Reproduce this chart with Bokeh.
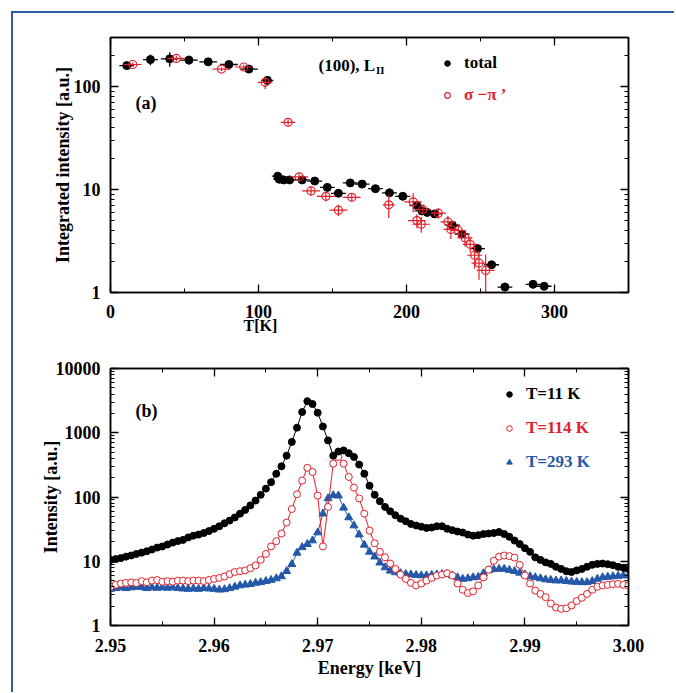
import numpy as np
from bokeh.plotting import figure
from bokeh.models import (FixedTicker, LinearAxis, LogAxis, Legend, LegendItem, Title,
                          Label, Range1d, PrintfTickFormatter, CustomJSTickFormatter)
from bokeh.layouts import column
from bokeh.embed import file_html
from bokeh.resources import INLINE

FONT = "Liberation Serif"
RED = "#e3212b"
BLUE = "#2458a8"
FRAME_BLUE = "#2e5f9f"

# ---------------- panel (a): integrated intensity vs temperature ----------------
total_T = [11, 27, 40, 53, 66, 80, 93.5, 106, 113, 114, 117, 121, 129.5, 138, 146.5, 154,
           162, 170, 179, 188.5, 197.5, 207, 210.5, 214, 219, 231, 237.5, 248, 257.5,
           266.5, 285.5, 293]
total_I = [160, 183, 186, 181, 174, 164, 148, 115, 13.5, 12.6, 12.4, 12.4, 12.4, 12.1, 10.5,
           9.2, 11.6, 11.3, 10.2, 9.3, 8.6, 7.0, 6.2, 6.0, 5.8, 4.5, 3.7, 2.67, 1.86,
           1.13, 1.2, 1.15]
total_xerr = [5, 5, 6, 6, 6, 6, 6, 4, 4, 4, 4, 4, 5, 5, 5, 5, 5, 5, 5, 5, 5, 5, 5, 5, 5, 5,
              5, 5, 5, 5, 5, 5]
total_yerr = [10, 22, 30, 18, 12, 8, 8, 10, 0.8, 0.6, 0.5, 0.5, 0.5, 0.5, 0.4, 0.4, 0.4,
              0.4, 0.4, 0.4, 0.3, 0.3, 0.3, 0.3, 0.3, 0.2, 0.2, 0.15, 0.1, 0.06, 0.06, 0.06]

sp_T = [15, 44.5, 75, 90, 104.5, 120, 127.5, 135.5, 145.5, 154, 163, 188, 204.5, 207, 210,
        211, 221.5, 228, 230, 235, 239.5, 243, 246, 249, 253.5]
sp_I = [164, 188, 148, 155, 110, 45, 13.3, 9.7, 8.6, 6.3, 8.4, 7.1, 7.6, 5.0, 4.6, 6.4, 5.9,
        4.85, 4.1, 4.0, 3.4, 2.94, 2.3, 1.93, 1.64]
sp_xerr = [6, 6, 6, 6, 5, 5, 6, 6, 6, 6, 6, 4, 6, 6, 6, 5, 5, 5, 5, 5, 5, 5, 5, 5, 6]
sp_yerr = [8, 12, 6, 8, 15, 3, 1.0, 1.0, 0.9, 0.8, 0.8, 1.8, 1.6, 0.8, 0.8, 0.6, 0.7, 0.7,
           0.8, 0.6, 0.6, 0.5, 0.6, 0.6, 0.7]

# ---------------- panel (b): spectra ----------------
energy = [2.9500, 2.9505, 2.9510, 2.9515, 2.9520, 2.9525, 2.9530, 2.9535, 2.9540, 2.9545,
          2.9550, 2.9555, 2.9560, 2.9565, 2.9570, 2.9575, 2.9580, 2.9585, 2.9590, 2.9595,
          2.9600, 2.9605, 2.9610, 2.9615, 2.9620, 2.9625, 2.9630, 2.9635, 2.9640, 2.9645,
          2.9650, 2.9655, 2.9660, 2.9665, 2.9670, 2.9675, 2.9680, 2.9685, 2.9690, 2.9695,
          2.9700, 2.9705, 2.9710, 2.9715, 2.9720, 2.9725, 2.9730, 2.9735, 2.9740, 2.9745,
          2.9750, 2.9755, 2.9760, 2.9765, 2.9770, 2.9775, 2.9780, 2.9785, 2.9790, 2.9795,
          2.9800, 2.9805, 2.9810, 2.9815, 2.9820, 2.9825, 2.9830, 2.9835, 2.9840, 2.9845,
          2.9850, 2.9855, 2.9860, 2.9865, 2.9870, 2.9875, 2.9880, 2.9885, 2.9890, 2.9895,
          2.9900, 2.9905, 2.9910, 2.9915, 2.9920, 2.9925, 2.9930, 2.9935, 2.9940, 2.9945,
          2.9950, 2.9955, 2.9960, 2.9965, 2.9970, 2.9975, 2.9980, 2.9985, 2.9990, 2.9995,
          3.0000]
int_11K = [10.5, 10.8, 11.2, 11.8, 12.3, 13.0, 13.6, 14.3, 15.2, 16.3,
           17.0, 18.2, 19.5, 20.6, 21.5, 23.5, 25.0, 26.0, 27.5, 29.5,
           32, 35, 39, 43, 48, 55, 63, 74, 88, 108,
           135, 170, 230, 300, 440, 720, 1200, 2100, 3100, 2800,
           2050, 1250, 760, 440, 510, 530, 480, 420, 320, 230,
           150, 108, 86, 70, 60, 52, 46, 42, 38, 36,
           34.5, 33, 33.5, 35, 35, 32, 30.5, 29, 28, 26,
           25, 25.5, 26.5, 27, 27.5, 28.5, 26.5, 24, 21, 18.5,
           16, 14, 11.5, 10.5, 9.6, 9.1, 8.2, 7.6, 7.0, 6.8,
           7.2, 7.6, 8.2, 8.8, 9.1, 9.2, 9.0, 8.7, 8.2, 7.9,
           7.6]
int_114K = [4.0, 4.3, 4.5, 4.6, 4.7, 4.6, 4.9, 4.7, 5.0, 5.1,
            4.8, 4.9, 4.8, 5.0, 5.0, 4.9, 5.0, 5.0, 4.9, 5.1,
            5.3, 5.5, 5.8, 6.3, 6.8, 7.0, 7.2, 7.8, 8.6, 10.5,
            13, 17, 20.5, 27, 40, 65, 110, 180, 285, 245,
            105, 17, 70, 330, 420, 330, 205, 140, 95, 55,
            30, 19, 14, 11.5, 9.2, 7.6, 6.2, 5.3, 4.6, 4.2,
            4.5, 5.0, 5.5, 6.0, 6.2, 6.5, 6.0, 4.5, 3.6, 3.2,
            3.4, 4.2, 5.6, 7.4, 10.2, 11.8, 12.3, 12.0, 11.4, 8.8,
            6.0, 4.5, 3.5, 3.1, 2.76, 2.2, 1.9, 1.82, 1.85, 2.05,
            2.4, 2.7, 3.1, 3.6, 4.0, 4.2, 4.3, 4.4, 4.45, 4.3,
            4.2]
int_293K = [3.7, 3.8, 3.9, 3.8, 3.9, 4.0, 3.95, 3.8, 3.9, 3.85,
            3.9, 3.85, 3.9, 3.8, 3.75, 3.7, 3.75, 3.7, 3.8, 3.75,
            3.7, 3.6, 3.65, 3.8, 4.0, 4.2, 4.3, 4.4, 4.6, 4.7,
            4.9, 5.1, 5.4, 5.8, 7.0, 9.0, 13.5, 16.5, 18.5, 21,
            28, 55, 95, 106, 105, 68, 48, 36, 26, 18,
            14, 11.8, 9.5, 8.0, 7.1, 6.7, 6.5, 6.3, 6.2, 6.1,
            6.0, 6.0, 6.1, 6.2, 6.3, 6.3, 6.0, 5.6, 5.3, 5.4,
            5.6, 5.7, 6.5, 7.2, 7.5, 7.6, 7.6, 7.3, 7.0, 6.6,
            6.2, 5.8, 5.6, 5.4, 5.2, 5.1, 5.0, 5.0, 4.9, 4.8,
            4.75, 4.7, 4.7, 4.9, 5.3, 5.6, 5.7, 5.8, 5.9, 6.0,
            6.0]

# ---------------- ticks ----------------
x_ticks_a = [0, 100, 200, 300]
x_minor_a = [50, 150, 250, 350]
y_decades_a = [1, 10, 100]
x_ticks_b = [2.95, 2.96, 2.97, 2.98, 2.99, 3.00]
x_minor_b = [2.955, 2.965, 2.975, 2.985, 2.995]
y_decades_b = [1, 10, 100, 1000, 10000]


def log_minors(decades):
    return [m * d for d in decades for m in range(2, 10)]


def style_axis(ax, show_labels=True):
    ax.axis_line_color = "black"
    ax.axis_line_width = 1.5
    ax.major_tick_in = 8
    ax.major_tick_out = 0
    ax.minor_tick_in = 4
    ax.minor_tick_out = 0
    ax.major_tick_line_width = 1.3
    ax.minor_tick_line_width = 1.0
    ax.major_tick_line_color = "black"
    ax.minor_tick_line_color = "black"
    ax.major_label_text_font = FONT
    ax.major_label_text_font_style = "bold"
    ax.major_label_text_color = "black"
    ax.axis_label_text_font = FONT
    ax.axis_label_text_font_style = "bold"
    ax.axis_label_text_font_size = "18px"
    ax.axis_label_text_color = "black"
    if show_labels:
        ax.major_label_text_font_size = "18px"
        ax.major_label_standoff = 10
    else:
        ax.major_label_text_font_size = "2px"
        ax.major_label_standoff = 0
        ax.formatter = CustomJSTickFormatter(code="return '';")


def base_style(p):
    p.grid.visible = False
    p.outline_line_color = "black"
    p.outline_line_width = 1.5
    p.outline_line_alpha = 1.0
    p.background_fill_color = "white"
    p.border_fill_color = "white"


def make_legend(p, label, renderer, color, x, y):
    leg = Legend(items=[LegendItem(label=label, renderers=[renderer])],
                 location=(x, y), padding=0, margin=0, spacing=0,
                 glyph_width=14, glyph_height=24, label_standoff=10,
                 label_text_font=FONT, label_text_font_style="bold",
                 label_text_font_size="17px", label_text_color=color,
                 background_fill_alpha=0, border_line_alpha=0)
    p.add_layout(leg, "center")


def text_label(p, x, y, text, size):
    p.add_layout(Label(x=x, y=y, x_units="screen", y_units="screen", text=text,
                       text_font=FONT, text_font_style="bold", text_font_size=size,
                       text_color="black", text_baseline="middle"))


# ================= figure (a) =================
p1 = figure(width=661, height=329, x_range=Range1d(0, 350), y_range=Range1d(1, 300),
            y_axis_type="log", output_backend="svg", toolbar_location=None,
            min_border_left=97, min_border_right=46, min_border_top=24, min_border_bottom=50)
base_style(p1)
p1.xaxis.ticker = FixedTicker(ticks=x_ticks_a, minor_ticks=x_minor_a)
p1.yaxis.ticker = FixedTicker(ticks=y_decades_a, minor_ticks=log_minors(y_decades_a))
p1.yaxis.formatter = PrintfTickFormatter(format="%d")
p1.yaxis.axis_label = "Integrated intensity [a.u.]"
style_axis(p1.xaxis[0])
style_axis(p1.yaxis[0])
p1.xaxis.major_label_standoff = 12
p1.yaxis.axis_label_standoff = -2
top_a = LinearAxis(ticker=FixedTicker(ticks=x_ticks_a, minor_ticks=x_minor_a))
right_a = LogAxis(ticker=FixedTicker(ticks=y_decades_a, minor_ticks=log_minors(y_decades_a)))
style_axis(top_a, False)
style_axis(right_a, False)
p1.add_layout(top_a, "above")
p1.add_layout(right_a, "right")

# x-axis title of panel (a): sits under the "100" tick label, as in the original
p1.add_layout(Title(text="T[K]", align="left", offset=133, standoff=-8,
                    vertical_align="top", text_font=FONT, text_font_style="bold",
                    text_font_size="16px", text_color="black"), "below")

tT, tI = np.array(total_T), np.array(total_I)
txe, tye = np.array(total_xerr), np.array(total_yerr)
sT, sI = np.array(sp_T), np.array(sp_I)
sxe, sye = np.array(sp_xerr), np.array(sp_yerr)

p1.segment(x0=tT - txe, y0=tI, x1=tT + txe, y1=tI, line_color="black", line_width=1.3)
p1.segment(x0=tT, y0=tI - tye, x1=tT, y1=tI + tye, line_color="black", line_width=1.3)
r_total = p1.scatter(tT, tI, marker="circle", size=8, fill_color="black", line_color="black")
p1.segment(x0=sT - sxe, y0=sI, x1=sT + sxe, y1=sI, line_color=RED, line_width=1.2)
p1.segment(x0=sT, y0=sI - sye, x1=sT, y1=sI + sye, line_color=RED, line_width=1.2)
r_sp = p1.scatter(sT, sI, marker="circle", size=8, fill_alpha=0, line_color=RED,
                  line_width=1.2)

make_legend(p1, "total", r_total, "black", 330, 217)
make_legend(p1, "σ −π ’", r_sp, RED, 330, 185)

text_label(p1, 25, 189.5, "(a)", "18px")
text_label(p1, 208, 227, "(100), L", "17px")
text_label(p1, 265.5, 223, "II", "11px")

# ================= figure (b) =================
p2 = figure(width=661, height=350, x_range=Range1d(2.95, 3.0), y_range=Range1d(1, 10000),
            y_axis_type="log", output_backend="svg", toolbar_location=None,
            min_border_left=97, min_border_right=46, min_border_top=26, min_border_bottom=67)
base_style(p2)
p2.xaxis.ticker = FixedTicker(ticks=x_ticks_b, minor_ticks=x_minor_b)
p2.xaxis.formatter = PrintfTickFormatter(format="%.2f")
p2.yaxis.ticker = FixedTicker(ticks=y_decades_b, minor_ticks=log_minors(y_decades_b))
p2.yaxis.formatter = PrintfTickFormatter(format="%d")
p2.xaxis.axis_label = "Energy [keV]"
p2.yaxis.axis_label = "Intensity [a.u.]"
style_axis(p2.xaxis[0])
style_axis(p2.yaxis[0])
p2.xaxis.major_label_standoff = 13
p2.xaxis.axis_label_standoff = 3
p2.yaxis.axis_label_standoff = -8
top_b = LinearAxis(ticker=FixedTicker(ticks=x_ticks_b, minor_ticks=x_minor_b))
right_b = LogAxis(ticker=FixedTicker(ticks=y_decades_b, minor_ticks=log_minors(y_decades_b)))
style_axis(top_b, False)
style_axis(right_b, False)
p2.add_layout(top_b, "above")
p2.add_layout(right_b, "right")

p2.line(energy, int_293K, line_color=BLUE, line_width=1)
r_293 = p2.scatter(energy, int_293K, marker="triangle", size=8, fill_color=BLUE,
                   line_color=BLUE)
p2.line(energy, int_114K, line_color=RED, line_width=1)
r_114 = p2.scatter(energy, int_114K, marker="circle", size=7, fill_color="white",
                   line_color=RED, line_width=1)
p2.line(energy, int_11K, line_color="black", line_width=1)
r_11 = p2.scatter(energy, int_11K, marker="circle", size=7, fill_color="black",
                  line_color="black")

make_legend(p2, "T=11 K", r_11, "black", 392, 219)
make_legend(p2, "T=114 K", r_114, RED, 392, 185)
make_legend(p2, "T=293 K", r_293, BLUE, 392, 151)

text_label(p2, 25, 215, "(b)", "18px")

layout = column(p1, p2, margin=(11, 0, 0, 11),
                styles={"border-top": f"2px solid {FRAME_BLUE}",
                        "border-left": f"2px solid {FRAME_BLUE}"})

open("out.html", "w").write(file_html(layout, INLINE))
